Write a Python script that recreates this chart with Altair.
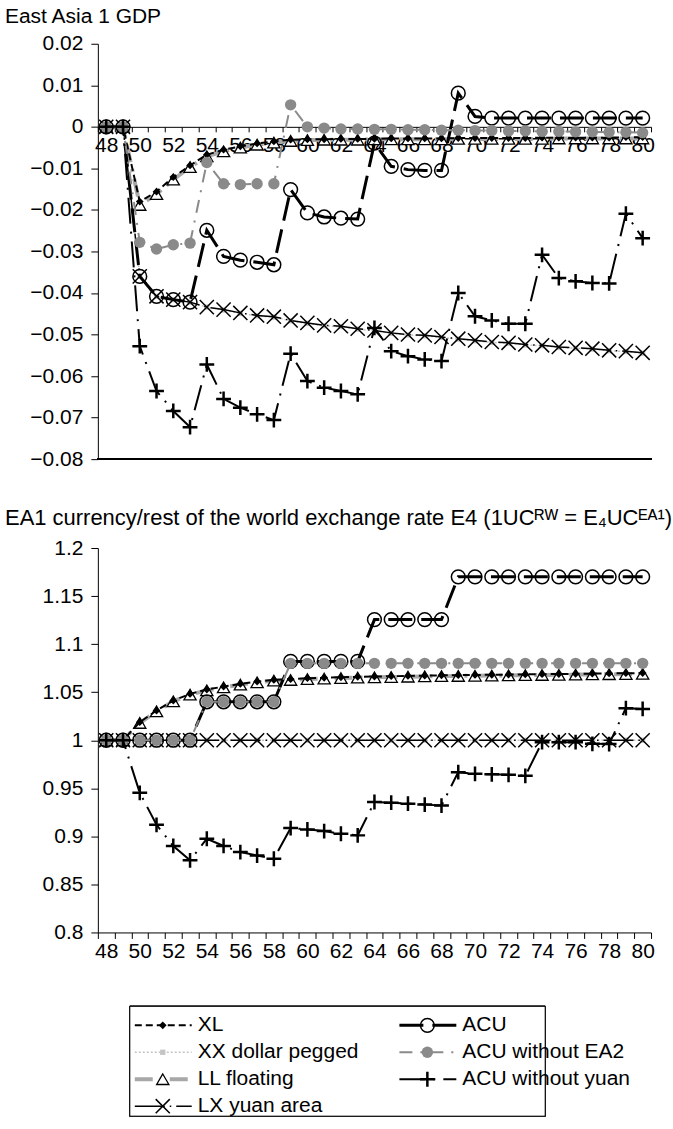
import altair as alt
import pandas as pd

# ---------------- data ----------------
years = list(range(48, 81))

series_names = ["XL", "XX dollar pegged", "LL floating", "LX yuan area",
                "ACU", "ACU without EA2", "ACU without yuan"]

# East Asia 1 GDP
gdp_xl = [0, 0, -0.0180, -0.0156, -0.0121, -0.0093, -0.0067, -0.0055, -0.0047, -0.0040,
          -0.0035, -0.0031, -0.0030, -0.0030, -0.0029, -0.0029, -0.0029, -0.0028, -0.0028,
          -0.0028, -0.0028, -0.0027, -0.0027, -0.0027, -0.0027, -0.0027, -0.0026, -0.0026,
          -0.0026, -0.0026, -0.0026, -0.0025, -0.0025]
gdp_ll = [0, 0, -0.0188, -0.0162, -0.0127, -0.0097, -0.0071, -0.0059, -0.0050, -0.0043,
          -0.0038, -0.0034, -0.0032, -0.0031, -0.0031, -0.0031, -0.0030, -0.0030, -0.0030,
          -0.0030, -0.0030, -0.0029, -0.0029, -0.0029, -0.0029, -0.0029, -0.0029, -0.0028,
          -0.0028, -0.0028, -0.0028, -0.0028, -0.0028]
gdp_lx = [0, 0, -0.0360, -0.0408, -0.0416, -0.0422, -0.0434, -0.0440, -0.0448, -0.0454,
          -0.0457, -0.0466, -0.0472, -0.0478, -0.0480, -0.0486, -0.0490, -0.0496, -0.0500,
          -0.0502, -0.0506, -0.0510, -0.0514, -0.0518, -0.0520, -0.0524, -0.0526, -0.0530,
          -0.0532, -0.0534, -0.0538, -0.0540, -0.0544]
gdp_xx = [0, 0, -0.0360, -0.0408, -0.0416, -0.0422, -0.0434, -0.0441, -0.0449, -0.0455,
          -0.0458, -0.0467, -0.0473, -0.0479, -0.0481, -0.0487, -0.0491, -0.0497, -0.0501,
          -0.0503, -0.0507, -0.0511, -0.0515, -0.0519, -0.0521, -0.0525, -0.0527, -0.0531,
          -0.0533, -0.0535, -0.0539, -0.0541, -0.0545]
gdp_acu = [0, 0, -0.0360, -0.0408, -0.0416, -0.0422, -0.0249, -0.0312, -0.0321, -0.0326,
           -0.0332, -0.0151, -0.0207, -0.0217, -0.0220, -0.0222, -0.0039, -0.0095, -0.0103,
           -0.0105, -0.0105, 0.0081, 0.0025, 0.0021, 0.0021, 0.0021, 0.0021, 0.0021,
           0.0021, 0.0021, 0.0021, 0.0021, 0.0021]
gdp_ea2 = [0, 0, -0.0278, -0.0294, -0.0284, -0.0280, -0.0086, -0.0137, -0.0139, -0.0137,
           -0.0137, 0.0053, 0.0000, -0.0003, -0.0005, -0.0005, -0.0006, -0.0006, -0.0007,
           -0.0007, -0.0008, -0.0008, -0.0009, -0.0009, -0.0010, -0.0010, -0.0011, -0.0011,
           -0.0012, -0.0012, -0.0013, -0.0013, -0.0014]
gdp_yuan = [0, 0, -0.0528, -0.0636, -0.0684, -0.0723, -0.0572, -0.0655, -0.0676, -0.0692,
            -0.0706, -0.0546, -0.0612, -0.0628, -0.0636, -0.0644, -0.0484, -0.0540, -0.0552,
            -0.0560, -0.0564, -0.0400, -0.0456, -0.0466, -0.0474, -0.0474, -0.0308, -0.0364,
            -0.0372, -0.0376, -0.0377, -0.0209, -0.0268]

# EA1 currency / rest of the world exchange rate E4
rate_xl = [1.0, 1.0, 1.0188, 1.0309, 1.0413, 1.0482, 1.0527, 1.0558, 1.0586, 1.0610,
           1.0628, 1.0635, 1.0645, 1.0650, 1.0655, 1.0660, 1.0663, 1.0666, 1.0669, 1.0672,
           1.0675, 1.0677, 1.0679, 1.0681, 1.0683, 1.0685, 1.0687, 1.0689, 1.0691, 1.0693,
           1.0695, 1.0697, 1.0699]
rate_ll = [1.0, 1.0, 1.0180, 1.0300, 1.0405, 1.0474, 1.0519, 1.0550, 1.0578, 1.0602,
           1.0620, 1.0627, 1.0637, 1.0642, 1.0647, 1.0652, 1.0655, 1.0658, 1.0661, 1.0664,
           1.0667, 1.0669, 1.0671, 1.0673, 1.0675, 1.0677, 1.0679, 1.0681, 1.0683, 1.0685,
           1.0687, 1.0689, 1.0691]
rate_xx = [1.0] * 33
rate_lx = [1.0] * 33
rate_acu = [1.0, 1.0, 1.0, 1.0, 1.0, 1.0, 1.04, 1.04, 1.04, 1.04, 1.04,
            1.082, 1.082, 1.082, 1.082, 1.082, 1.1255, 1.1255, 1.1255, 1.1255, 1.1255,
            1.17, 1.17, 1.17, 1.17, 1.17, 1.17, 1.17, 1.17, 1.17, 1.17, 1.17, 1.17]
rate_ea2 = [1.0, 1.0, 1.0, 1.0, 1.0, 1.0, 1.04, 1.04, 1.04, 1.04, 1.04,
            1.08, 1.08, 1.08, 1.08, 1.08, 1.08, 1.08, 1.08, 1.08, 1.08, 1.08, 1.08,
            1.08, 1.08, 1.08, 1.08, 1.08, 1.08, 1.08, 1.08, 1.08, 1.08]
rate_yuan = [1.0, 1.0, 0.9453, 0.912, 0.89, 0.875, 0.8975, 0.89, 0.8836, 0.88, 0.8767,
             0.9086, 0.9072, 0.9055, 0.9027, 0.901, 0.9357, 0.935, 0.934, 0.933, 0.932,
             0.9668, 0.965, 0.9645, 0.964, 0.963, 0.998, 0.998, 0.998, 0.9963, 0.996,
             1.0334, 1.0326]

gdp_ticks = [-0.08, -0.07, -0.06, -0.05, -0.04, -0.03, -0.02, -0.01, 0, 0.01, 0.02]
rate_ticks = [0.8, 0.85, 0.9, 0.95, 1.0, 1.05, 1.1, 1.15, 1.2]

title_gdp = "East Asia 1 GDP"
title_rate = "EA1 currency/rest of the world exchange rate E4 (1UC\u1d3f\u1d42 = E\u2084UC\u1d31\u1d2c\u00b9)"

legend_cols = [0, 0, 0, 0, 1, 1, 1]
legend_rows = [0, 1, 2, 3, 0, 1, 2]

# ---------------- styles ----------------
FONT = "Liberation Sans"
FS = 21
X_PATH = "M-1,-1L1,1M-1,1L1,-1"
PLUS_PATH = "M0,-1L0,1M-1,0L1,0"

styles = {
    "XL": dict(line=dict(color="black", strokeWidth=2, strokeDash=[7, 4]),
               point=dict(shape="diamond", size=60, filled=True, color="black")),
    "XX dollar pegged": dict(line=dict(color="#c4c4c4", strokeWidth=1.5, strokeDash=[2, 2]),
                             point=dict(shape="square", size=28, filled=True, color="#c4c4c4")),
    "LL floating": dict(line=dict(color="#a8a8a8", strokeWidth=4, strokeDash=[18, 7, 3, 7]),
                        point=dict(shape="triangle-up", size=150, filled=True, fill="white",
                                   stroke="black", strokeWidth=1.3)),
    "LX yuan area": dict(line=dict(color="black", strokeWidth=1.5, strokeDash=[30, 5, 1.5, 5]),
                         point=dict(shape=X_PATH, size=200, filled=False, color="black",
                                    strokeWidth=1.5)),
    "ACU": dict(line=dict(color="black", strokeWidth=3, strokeDash=[24, 9]),
                point=dict(shape="circle", size=190, filled=False, color="black",
                           strokeWidth=1.5)),
    "ACU without EA2": dict(line=dict(color="#8a8a8a", strokeWidth=2, strokeDash=[13, 8, 2, 8]),
                            point=dict(shape="circle", size=130, filled=True, color="#8a8a8a")),
    "ACU without yuan": dict(line=dict(color="black", strokeWidth=2, strokeDash=[26, 8, 2, 8]),
                             point=dict(shape=PLUS_PATH, size=220, filled=False, color="black",
                                        strokeWidth=2.5)),
}
draw_order = ["XX dollar pegged", "LX yuan area", "LL floating", "XL",
              "ACU", "ACU without EA2", "ACU without yuan"]

W = 554
H_TOP = 416
H_BOT = 385


def long_df(cols):
    rows = []
    for name, vals in zip(series_names, cols):
        for yr, v in zip(years, vals):
            rows.append({"year": yr, "series": name, "value": v})
    return pd.DataFrame(rows)


df_gdp = long_df([gdp_xl, gdp_xx, gdp_ll, gdp_lx, gdp_acu, gdp_ea2, gdp_yuan])
df_rate = long_df([rate_xl, rate_xx, rate_ll, rate_lx, rate_acu, rate_ea2, rate_yuan])

even_labels = "datum.value % 2 == 0 ? datum.label : ''"


def panel(df, y_dom, y_ticks, y_axis_extra, x_axis_extra, height, title, title_size,
          title_offset, frame=False):
    x_enc = alt.X("year:O", bandPosition=0.5,
                  scale=alt.Scale(type="band", paddingInner=0, paddingOuter=0),
                  axis=alt.Axis(title=None, tickBand="extent", labelExpr=even_labels,
                                labelAngle=0, labelOverlap=False, **x_axis_extra))
    y_scale = alt.Scale(domain=y_dom, nice=False, zero=False)
    y_enc = alt.Y("value:Q", scale=y_scale,
                  axis=alt.Axis(title=None, values=y_ticks, tickSize=7, labelPadding=8,
                                minExtent=93, maxExtent=93, **y_axis_extra))
    layers = []
    if frame:
        layers.append(alt.Chart(df).mark_rule(color="black", strokeWidth=1)
                      .encode(y=alt.YDatum(y_dom[0], scale=y_scale)))
    for name in draw_order:
        st = styles[name]
        base = alt.Chart(df).transform_filter(alt.datum.series == name).encode(x=x_enc, y=y_enc)
        layers.append(base.mark_line(**st["line"]))
        layers.append(base.mark_point(opacity=1, **st["point"]))
    return alt.layer(*layers).properties(
        width=W, height=height,
        title=alt.Title(title, anchor="start", frame="bounds", fontSize=title_size, font=FONT,
                        fontWeight="normal", color="black", offset=title_offset))


zero_px = H_TOP * (0.02 - 0) / (0.02 - (-0.08))
top = panel(df_gdp, [-0.08, 0.02], gdp_ticks,
            dict(labelExpr="datum.value == 0 ? '0' : format(datum.value, '.2f')"),
            dict(offset=-(H_TOP - zero_px), tickSize=5, labelPadding=3),
            H_TOP, title_gdp, FS, 6, frame=True)
bottom = panel(df_rate, [0.8, 1.2], rate_ticks,
               dict(format="~g"),
               dict(tickSize=6, labelPadding=2),
               H_BOT, title_rate, 22, 7)

# ---------------- legend ----------------
LEG_W = 448      # legend panel, aligned with the plot origin
BOX_L = 32       # box left edge inside the legend panel
LEG_H = 110
leg_df = pd.DataFrame({"series": series_names, "col": legend_cols, "row": legend_rows})
leg_base = alt.Chart(leg_df).transform_calculate(
    x0=f"{BOX_L} + datum.col * 265 + 5", x1=f"{BOX_L} + datum.col * 265 + 62",
    xm=f"{BOX_L} + datum.col * 265 + 33", xt=f"{BOX_L} + datum.col * 265 + 68",
    yy="19 + 27 * datum.row")
lx_scale = alt.Scale(domain=[0, LEG_W], nice=False, zero=False)
ly_scale = alt.Scale(domain=[0, LEG_H], nice=False, zero=False, reverse=True)
leg_layers = [
    alt.Chart(leg_df).mark_rect(fill="white", stroke="black", strokeWidth=1).encode(
        x=alt.value(BOX_L), x2=alt.value(LEG_W), y=alt.value(0), y2=alt.value(LEG_H))
]
for name in series_names:
    st = styles[name]
    b = leg_base.transform_filter(alt.datum.series == name)
    leg_layers.append(b.mark_rule(**st["line"]).encode(
        x=alt.X("x0:Q", scale=lx_scale, axis=None), x2="x1:Q",
        y=alt.Y("yy:Q", scale=ly_scale, axis=None)))
    leg_layers.append(b.mark_point(opacity=1, **st["point"]).encode(
        x=alt.X("xm:Q", scale=lx_scale, axis=None),
        y=alt.Y("yy:Q", scale=ly_scale, axis=None)))
leg_layers.append(leg_base.mark_text(align="left", baseline="middle", fontSize=FS, font=FONT,
                                     color="black").encode(
    x=alt.X("xt:Q", scale=lx_scale, axis=None),
    y=alt.Y("yy:Q", scale=ly_scale, axis=None),
    text="series:N"))
legend = alt.layer(*leg_layers).properties(width=LEG_W, height=LEG_H)

chart = alt.vconcat(alt.vconcat(top, bottom, spacing=38), legend, spacing=44).properties(
    padding={"left": 5, "top": 5, "right": 0, "bottom": 0}
).configure_view(strokeWidth=0).configure_axis(
    labelFont=FONT, labelFontSize=FS, labelColor="black", domainColor="black",
    tickColor="black", grid=False, domainWidth=1, tickWidth=1)

chart.save("out.html", embed_options={"renderer": "svg", "actions": False})
